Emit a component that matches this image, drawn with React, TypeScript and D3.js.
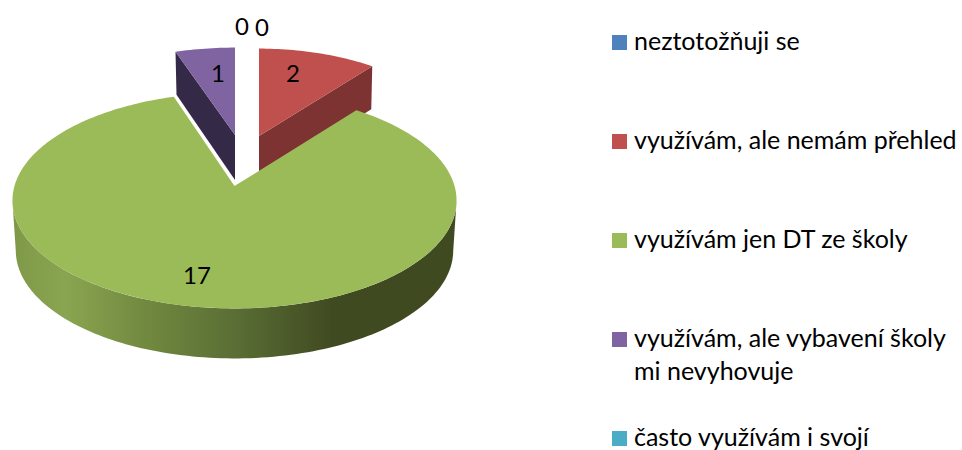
import React from "react";
import * as d3 from "d3";

const categories = ["neztotožňuji se", "využívám, ale nemám přehled", "využívám jen DT ze školy", "využívám, ale vybavení školy|mi nevyhovuje", "často využívám i svojí"];
const values = [0, 2, 17, 1, 0];
const colors = ["#4F81BD", "#C0504D", "#9BBB59", "#8064A2", "#4BACC6"];
const wallColors = ["#2F4B70", "#7D3331", "url(#wall)", "#342A47", "#2D6676"];
const labelSpots: [number, number][] = [[262, 27], [293, 73], [197, 275], [218, 73], [242, 26]];
// explosion of each slice, in screen space: dx, dy, horizontal scale, apex shift
const explode = [[0, 0, 1, 0], [24.5, -44, 0.93, 0], [0, 0, 1, 6], [0.5, -45, 0.98, 0], [0, 0, 1, 0]];

const cx = 234.5, cy = 180, R = 218, A = 104, p = 0.19, depth = 50;
const warpFront = 4 * Math.PI / 180, warpBack = 2 * Math.PI / 180;

function project(theta: number): [number, number] {
  const s = Math.sin(2 * theta);
  const t = theta + (theta > Math.PI ? warpBack : warpFront) * s;
  const u = Math.sin(t), v = Math.cos(t);
  const d = 1 + p * v;
  return [R * u / d, -A * v / d];
}

const pieGen = d3.pie<number>().sort(null).value((d) => d);
const arcs = pieGen(values);
const line = d3.line();

function arcPoints(a0: number, a1: number) {
  const n = Math.max(2, Math.ceil(Math.abs(a1 - a0) / 0.02));
  return d3.range(n + 1).map((i) => project(a0 + (a1 - a0) * i / n));
}

export default function App() {
  const faces = arcs.map((a, i) => {
    const [dx, dy, sx, ady] = explode[i];
    const pts = arcPoints(a.startAngle, a.endAngle).map(([x, y]) => [cx + dx + x * sx, cy + dy + y] as [number, number]);
    const apex: [number, number] = [cx + dx, cy + dy + ady];
    return { pts, apex, i };
  });
  const purpleWall: [number, number][] = (() => {
    const f = faces[3];
    const first = f.pts[0];
    return [first, f.apex, [f.apex[0], f.apex[1] + 45], [first[0] + 1, first[1] + 43]];
  })();
  const redWall: [number, number][] = (() => {
    const f = faces[1];
    const last = f.pts[f.pts.length - 1];
    return [f.apex, last, [last[0] - 1, last[1] + 43], [f.apex[0], f.apex[1] + 44]];
  })();
  // outer rim of the large slice, between its two widest points
  const rimTop = arcPoints(103 * Math.PI / 180, 258 * Math.PI / 180).map(([x, y]) => [cx + x, cy + y] as [number, number]);
  const rimBottom = rimTop.map(([x, y]) => [cx + (x - cx) * 0.985, y + depth] as [number, number]).reverse();
  const rim = [...rimTop, ...rimBottom];
  const face = (i: number) => line([faces[i].apex, ...faces[i].pts])! + "Z";

  return (
    <svg width={962} height={450} style={{ position: "absolute", left: 0, top: 0 }} fontFamily="Lato, sans-serif">
      <defs>
        <linearGradient id="wall" gradientUnits="userSpaceOnUse" x1={12} x2={457} y1={0} y2={0}>
          <stop offset="0" stopColor="#7E9848" />
          <stop offset="0.12" stopColor="#8AA551" />
          <stop offset="0.3" stopColor="#71893F" />
          <stop offset="0.5" stopColor="#5A6E35" />
          <stop offset="0.72" stopColor="#404A21" />
          <stop offset="1" stopColor="#404A21" />
        </linearGradient>
      </defs>
      <path d={line(redWall)! + "Z"} fill={wallColors[1]} />
      <path d={face(1)} fill={colors[1]} />
      <path d={line(purpleWall)! + "Z"} fill={wallColors[3]} />
      <path d={face(3)} fill={colors[3]} />
      <path d={line(rim)! + "Z"} fill={wallColors[2]} />
      <path d={face(2)} fill={colors[2]} />
      {values.map((v, i) => (
        <text key={i} x={labelSpots[i][0]} y={labelSpots[i][1] + 8.5} textAnchor="middle" fontSize={24} fill="#000">{v}</text>
      ))}
      {categories.map((c, i) => {
        const yy = 42.5 + i * 99;
        return (
          <g key={c}>
            <rect x={612} y={yy - 7.5} width={15} height={15} fill={colors[i]} />
            {c.split("|").map((t, j) => (
              <text key={t} x={634} y={yy + 7.5 + j * 33} fontSize={25} fill="#000">{t}</text>
            ))}
          </g>
        );
      })}
    </svg>
  );
}
